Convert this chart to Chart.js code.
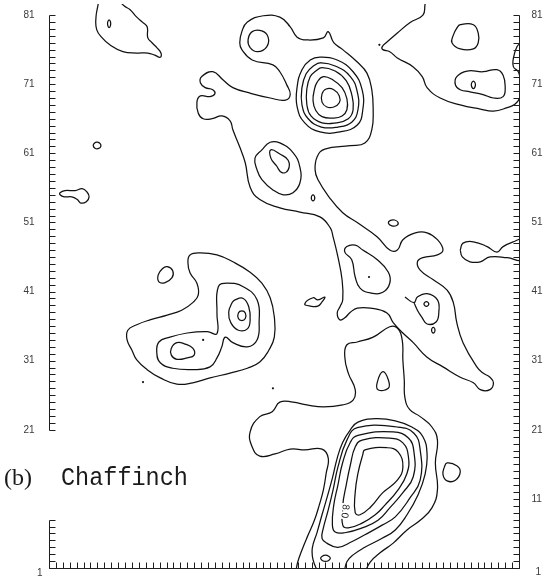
<!DOCTYPE html>
<html>
<head>
<meta charset="utf-8">
<script src="https://cdn.jsdelivr.net/npm/chart.js@4/dist/chart.umd.min.js"></script>
<style>
  html, body { margin: 0; padding: 0; background: #fff; }
  #wrap { width: 548px; height: 580px; }
</style>
</head>
<body>
<div id="wrap"><canvas id="map" width="548" height="580"></canvas></div>
<script>
// Grid extent (survey squares) and axis tick labelling
const xRange = [1, 69];
const yRange = [1, 82.6];
const leftAxisSpans = [[21, 81], [1, 8]];
const leftTickLabels = [81, 71, 61, 51, 41, 31, 21, 1];
const rightTickLabels = [81, 71, 61, 51, 41, 31, 21, 11, 1];
const contourLabel = ['8.0', 43.8, 9.2];
const speckles = [[23.3, 34.0], [47.3, 43.1], [14.6, 27.9], [33.4, 27.0], [48.8, 76.7]];

// Contour paths in grid units [x, y]. Open paths run off the map edge.
const topLeftBlob = [[8.2,83.2],[8.1,82.5],[7.8,80.7],[7.9,78.9],[8.7,77.7],[9.8,76.7],[11.7,75.7],[13.7,75.5],[15.3,75.5],[16.3,75.2],[17.1,74.9],[17.2,75.5],[16.6,76.3],[15.9,77.0],[15.3,77.7],[15.2,79.3],[14.6,79.9],[13.7,80.7],[12.7,81.8],[11.9,82.3],[11.2,83.0]];
const northEastLine = [[55.5,83.2],[55.4,82.5],[55.1,81.0],[53.2,79.9],[51.4,78.4],[49.9,77.1],[49.2,76.4],[49.3,76.0],[50.3,75.7],[51.4,74.8],[53.7,73.5],[55.0,72.1],[55.7,70.5],[57.6,69.0],[60.5,68.0],[63.4,67.4],[65.3,67.1],[67.3,67.6],[68.4,68.1],[69.1,69.0],[69.3,70.5],[69.2,71.5],[68.9,72.8],[68.2,73.5],[68.2,74.8],[68.7,76.4],[69.3,77.1],[69.8,78.0]];
const lowerOuter = [[36.7,0.4],[37.0,1.9],[37.6,3.6],[38.5,5.8],[39.4,7.9],[40.1,10.1],[40.7,12.3],[41.1,14.7],[41.4,16.9],[40.5,18.2],[38.0,18.1],[35.9,18.2],[33.7,17.5],[31.5,17.2],[30.4,18.5],[30.1,20.7],[31.5,22.9],[33.3,23.6],[34.4,25.0],[36.3,25.0],[38.3,24.6],[40.7,24.3],[43.5,24.6],[45.0,25.3],[45.3,26.8],[44.3,29.2],[43.8,31.5],[44.1,33.3],[45.6,33.7],[47.9,34.4],[50.3,35.9],[51.4,35.7],[52.1,34.0],[52.2,31.1],[52.4,28.2],[52.5,25.6],[53.2,23.9],[54.7,22.9],[56.4,21.4],[57.2,19.5],[56.9,16.2],[57.2,12.3],[56.4,9.7],[54.7,7.9],[52.8,6.5],[50.8,4.6],[48.9,3.2],[47.5,1.9],[46.7,0.4]];
const lowerLevel2 = [[39.9,0.4],[39.2,2.2],[39.1,3.9],[39.8,6.2],[40.5,8.7],[41.2,11.1],[42.0,14.0],[42.7,16.9],[43.5,19.2],[44.6,21.0],[45.7,22.1],[48.2,22.6],[51.1,22.3],[53.5,21.4],[55.1,20.0],[55.7,17.4],[55.4,14.5],[54.4,11.6],[52.8,8.7],[51.1,6.5],[49.2,5.3],[46.7,4.0],[45.0,2.9],[44.1,1.9],[43.7,0.4]];
const eastLoop = [[52.5,40.2],[53.8,39.4],[54.3,40.2],[55.7,40.7],[57.2,39.8],[57.4,38.0],[57.0,36.6],[55.7,36.3],[55.0,37.2],[54.3,38.3],[53.8,39.4]];
const eastRidge = [[60.5,47.0],[60.9,48.0],[62.4,48.2],[64.4,47.5],[65.8,46.7],[66.7,47.5],[68.2,48.2],[69.5,48.5],[69.5,45.6],[67.3,45.9],[64.8,46.0],[63.4,45.3],[61.9,45.3],[60.8,46.0],[60.5,47.0]];

// Closed contours
const topLeftSpeck = [[9.7,80.3],[9.9,80.0],[9.9,79.5],[9.7,79.2],[9.5,79.5],[9.5,80.0]];
const westRing = [[7.4,62.1],[7.6,62.5],[8.0,62.6],[8.4,62.4],[8.5,62.0],[8.2,61.7],[7.7,61.7]];
const edgeBlob = [[2.6,55.3],[3.3,55.6],[4.8,55.6],[5.8,55.9],[6.5,55.4],[6.8,54.7],[6.4,54.0],[5.6,53.8],[5.1,54.3],[4.3,54.7],[3.2,54.7],[2.6,55.0]];
const westOval = [[18.1,44.6],[18.9,44.0],[18.8,43.0],[17.8,42.3],[16.9,42.4],[16.8,43.4],[17.4,44.3]];
const westOuter = [[21.4,46.3],[22.9,46.6],[25.3,46.3],[27.6,45.3],[30.1,43.8],[31.8,42.2],[33.0,40.1],[33.6,37.3],[33.6,34.4],[32.8,32.5],[31.5,30.8],[29.7,29.9],[27.2,29.2],[24.3,28.5],[21.8,27.8],[19.5,27.6],[17.1,28.5],[15.2,29.7],[13.7,31.1],[13.0,32.5],[12.3,34.0],[12.4,35.4],[13.7,36.2],[15.6,36.9],[18.1,37.6],[20.2,38.3],[21.8,39.4],[22.6,40.5],[22.4,42.2],[21.4,43.7],[21.1,45.2]];
const westLevel2 = [[25.5,41.7],[26.8,42.2],[29.1,41.7],[31.1,39.8],[31.4,36.5],[31.1,34.0],[29.7,33.0],[27.6,33.6],[26.5,34.4],[26.0,33.0],[25.3,31.4],[24.3,30.1],[21.8,29.7],[18.9,29.9],[17.1,30.7],[16.6,32.1],[16.9,33.7],[18.5,34.4],[21.0,35.0],[23.9,35.2],[25.3,34.9],[25.3,37.9]];
const westLevel3a = [[27.9,39.8],[29.1,40.0],[29.9,38.8],[30.1,36.9],[29.7,35.6],[28.4,35.4],[27.3,36.5],[27.0,38.0],[27.5,39.4]];
const westLevel4 = [[28.9,38.2],[29.4,37.9],[29.4,37.1],[28.9,36.8],[28.4,37.1],[28.4,37.9]];
const westLevel3b = [[19.5,33.6],[20.7,33.4],[21.8,32.8],[22.0,31.8],[21.0,31.4],[19.5,31.2],[18.7,31.8],[18.7,32.8]];
const centralOuter = [[28.9,78.6],[29.7,80.0],[32.0,80.9],[34.4,80.7],[35.9,79.3],[36.9,77.8],[38.3,77.4],[40.7,77.7],[41.4,78.6],[42.2,77.0],[43.5,76.0],[45.6,74.2],[47.0,72.6],[47.7,70.2],[47.9,67.3],[47.7,64.4],[46.7,62.5],[44.6,62.1],[40.9,61.6],[39.8,60.5],[39.5,58.6],[39.9,57.2],[41.5,54.7],[43.5,52.4],[45.7,50.9],[48.5,48.9],[50.3,47.0],[51.4,47.0],[52.2,48.5],[54.0,49.5],[55.7,49.5],[57.2,48.5],[58.0,47.0],[57.2,46.3],[55.1,45.9],[54.3,45.3],[54.7,44.1],[56.6,42.7],[58.6,41.2],[59.5,39.4],[60.0,36.5],[60.9,33.6],[62.9,30.1],[63.8,29.2],[64.8,28.6],[65.3,27.8],[64.8,26.8],[63.4,26.8],[62.4,27.8],[60.5,28.6],[58.0,30.1],[55.7,31.5],[53.7,33.6],[52.2,35.0],[50.8,36.5],[49.9,37.9],[47.5,38.6],[45.6,38.6],[44.6,38.0],[43.8,37.2],[43.1,36.9],[42.7,37.9],[43.1,38.8],[43.5,39.8],[43.4,42.7],[42.8,46.0],[42.1,48.9],[41.7,50.2],[40.2,51.8],[37.3,52.5],[34.4,53.1],[31.5,54.3],[30.1,56.1],[29.4,59.6],[28.6,61.9],[27.6,64.4],[27.2,65.7],[26.0,66.4],[24.6,66.0],[23.3,66.0],[22.6,66.8],[22.4,68.4],[22.9,69.3],[24.3,69.2],[25.0,69.6],[24.7,70.2],[23.6,70.5],[22.9,71.2],[23.1,72.1],[24.7,72.8],[26.2,71.6],[27.6,70.5],[30.1,69.7],[33.0,69.0],[35.2,68.7],[35.9,69.5],[35.4,70.9],[34.4,72.8],[33.4,73.8],[30.4,74.5],[28.9,76.0],[28.6,77.0]];
const northRing = [[30.4,78.6],[31.8,78.7],[32.7,77.8],[32.5,76.4],[31.2,75.7],[30.1,76.3],[29.8,77.4]];
const peakLevel2 = [[40.2,74.9],[42.7,74.5],[45.0,72.8],[46.3,70.2],[46.4,67.3],[45.6,65.1],[43.1,64.1],[40.2,64.1],[38.0,65.4],[36.9,67.7],[36.9,70.6],[37.6,73.1],[38.8,74.5]];
const peakLevel3 = [[40.4,74.1],[42.5,73.6],[44.6,72.1],[45.6,69.9],[45.7,67.3],[44.8,65.5],[42.8,64.8],[40.4,64.8],[38.5,66.0],[37.6,68.0],[37.6,70.5],[38.2,72.5],[39.2,73.6]];
const peakLevel4 = [[40.5,73.4],[42.4,72.9],[44.0,71.5],[44.8,69.5],[45.0,67.3],[44.3,66.0],[42.5,65.4],[40.5,65.4],[38.9,66.4],[38.3,68.1],[38.3,70.3],[38.8,72.1],[39.6,72.9]];
const peakLevel5 = [[40.7,72.1],[42.1,71.6],[43.4,70.5],[44.1,68.9],[44.1,67.3],[43.4,66.4],[42.1,66.1],[40.5,66.3],[39.6,67.2],[39.2,68.6],[39.4,70.2],[39.8,71.3]];
const peakLevel6 = [[41.1,70.3],[42.2,70.2],[43.0,69.3],[43.0,68.3],[42.2,67.7],[41.2,67.7],[40.5,68.4],[40.5,69.6]];
const midLevel2 = [[31.8,61.5],[33.0,62.6],[34.4,62.5],[36.3,61.1],[37.3,59.0],[37.3,56.7],[36.3,55.3],[34.9,55.0],[33.4,55.7],[31.8,57.2],[31.1,58.6],[30.8,60.3]];
const midLevel3 = [[33.1,61.5],[34.4,60.9],[35.6,60.0],[35.6,58.6],[34.7,58.2],[33.9,59.2],[33.1,60.3]];
const speckA = [[39.2,55.0],[39.45,54.55],[39.2,54.1],[38.95,54.55]];
const speckB = [[50.1,50.9],[50.4,51.3],[51.0,51.35],[51.5,51.0],[51.3,50.55],[50.6,50.5]];
const centralLobe = [[44.1,47.5],[45.3,47.7],[46.4,47.0],[48.5,45.6],[50.1,43.8],[50.3,42.2],[49.3,40.9],[47.5,40.8],[46.0,41.5],[45.3,43.1],[44.8,45.6],[43.8,46.7]];
const eastSpeck = [[55.25,39.2],[55.6,39.55],[55.95,39.2],[55.6,38.85]];
const eastDrop = [[56.35,35.4],[56.6,35.8],[56.85,35.4],[56.6,35.0]];
const wedge = [[38.0,39.2],[39.2,40.1],[39.9,39.8],[40.9,40.2],[40.5,39.5],[39.9,38.9],[38.8,38.9]];
const northEastBlob = [[60.5,79.6],[62.4,79.6],[63.1,78.4],[63.1,77.0],[62.4,76.1],[60.5,76.1],[59.3,77.0],[59.5,78.1],[60.0,79.1]];
const eastBlob = [[60.0,72.1],[61.5,72.9],[63.8,72.8],[65.8,73.1],[66.7,72.3],[67.0,70.6],[66.7,69.2],[65.3,69.0],[63.8,69.5],[61.9,69.9],[60.5,70.2],[59.8,70.9]];
const eastBlobHole = [[62.4,71.45],[62.7,70.9],[62.4,70.35],[62.1,70.9]];
const gullyLoop = [[49.3,29.4],[50.1,28.2],[50.1,27.0],[48.6,26.8],[48.5,27.9]];
const southRing = [[58.6,16.2],[60.0,15.8],[60.5,14.9],[59.8,13.7],[58.6,13.6],[58.0,14.5],[58.2,15.6]];
const southHole = [[40.3,2.4],[41.0,2.85],[41.7,2.4],[41.0,1.95]];
const lowerLevel3 = [[45.6,21.3],[51.4,21.4],[53.8,20.5],[54.7,18.1],[54.7,13.7],[53.2,11.1],[51.1,8.4],[49.2,7.2],[46.7,5.8],[44.8,4.8],[42.8,4.0],[41.2,4.6],[40.5,5.3],[40.7,6.8],[41.4,9.4],[42.1,12.3],[42.8,15.6],[44.1,19.5]];
const lowerLevel4 = [[45.7,20.2],[50.8,20.7],[53.0,19.8],[53.8,17.8],[53.7,14.2],[52.2,11.9],[50.3,9.7],[48.6,7.9],[46.3,6.8],[43.8,6.1],[42.4,6.2],[42.0,7.2],[42.2,10.1],[42.8,13.0],[43.5,16.3],[44.6,19.2]];
const lowerLevel5 = [[46.3,19.5],[50.3,19.8],[52.2,19.1],[53.0,17.1],[52.8,14.7],[51.5,12.3],[49.6,10.1],[48.2,8.7],[46.3,7.5],[44.3,6.8],[43.5,7.2],[43.5,10.1],[44.0,13.0],[44.6,15.9],[45.3,18.5]];
const lowerLevel6 = [[46.7,18.1],[49.9,18.4],[51.5,17.8],[52.2,15.6],[51.4,13.7],[49.3,11.9],[47.5,9.8],[46.0,8.7],[45.3,9.0],[45.3,11.9],[45.7,14.7],[46.4,17.4]];

const openPaths = [topLeftBlob, northEastLine, lowerOuter, lowerLevel2, eastLoop, eastRidge];
const closedPaths = [topLeftSpeck, westRing, edgeBlob, westOval, westOuter, westLevel2, westLevel3a, westLevel4, westLevel3b,
  centralOuter, northRing, peakLevel2, peakLevel3, peakLevel4, peakLevel5, peakLevel6, midLevel2, midLevel3, speckA, speckB,
  centralLobe, eastSpeck, eastDrop, wedge, northEastBlob, eastBlob, eastBlobHole, gullyLoop, southRing, southHole,
  lowerLevel3, lowerLevel4, lowerLevel5, lowerLevel6];

const INK = '#111';
const LINE_W = 1.25;
const asPoints = list => list.map(([x, y]) => ({ x, y }));

function pathSet(list) {
  return { data: asPoints(list), showLine: true, tension: 0.45, borderColor: INK, borderWidth: LINE_W, pointRadius: 0 };
}
// Closed contour: wrap one point on each side so the spline is smooth at the seam,
// and hide the two wrap segments.
function loopSet(list) {
  const n = list.length;
  const pts = [list[n - 1], ...list, list[0], list[1]];
  const last = pts.length - 1;
  return {
    data: asPoints(pts), showLine: true, tension: 0.45, borderColor: INK, borderWidth: LINE_W, pointRadius: 0,
    segment: { borderColor: c => (c.p0DataIndex === 0 || c.p1DataIndex === last) ? 'rgba(0,0,0,0)' : INK }
  };
}

const datasets = [
  ...openPaths.map(pathSet),
  ...closedPaths.map(loopSet),
  { data: asPoints(speckles), showLine: false, pointRadius: 1.1, pointBorderWidth: 0, pointBackgroundColor: INK }
];

const framePlugin = {
  id: 'frame',
  afterDatasetsDraw(chart) {
    const { ctx, scales: { x, y } } = chart;
    const px = v => Math.round(x.getPixelForValue(v)) + 0.5;
    const py = v => Math.round(y.getPixelForValue(v)) + 0.5;
    const L = px(xRange[0]), R = px(xRange[1]), B = py(1);
    const tick = 6;
    ctx.save();

    // contour level label, set into a break in its line
    const [txt, lx, ly] = contourLabel;
    ctx.save();
    ctx.translate(x.getPixelForValue(lx), y.getPixelForValue(ly));
    ctx.rotate(Math.PI / 2 + 0.12);
    ctx.font = '10px "Liberation Sans", Arial, sans-serif';
    const w = ctx.measureText(txt).width;
    ctx.fillStyle = '#fff';
    ctx.fillRect(-w / 2 - 1, -5, w + 2, 10);
    ctx.fillStyle = INK;
    ctx.textAlign = 'center';
    ctx.textBaseline = 'middle';
    ctx.fillText(txt, 0, 0);
    ctx.restore();

    // axes with a tick at every grid square, pointing inward
    ctx.strokeStyle = '#1e1e1e';
    ctx.lineWidth = 1;
    ctx.beginPath();
    for (const [a, b] of leftAxisSpans) {
      ctx.moveTo(L, py(a)); ctx.lineTo(L, py(b));
      for (let v = a; v <= b; v++) { ctx.moveTo(L, py(v)); ctx.lineTo(L + tick, py(v)); }
    }
    ctx.moveTo(R, py(1)); ctx.lineTo(R, py(81));
    for (let v = 1; v <= 81; v++) { ctx.moveTo(R, py(v)); ctx.lineTo(R - tick, py(v)); }
    ctx.moveTo(L, B); ctx.lineTo(R, B);
    for (let v = xRange[0]; v <= xRange[1]; v++) { ctx.moveTo(px(v), B); ctx.lineTo(px(v), B - tick); }
    ctx.stroke();

    // tick labels (the corner "1" sits a little lower and further in)
    ctx.fillStyle = '#3a3a3a';
    ctx.font = '10px "Liberation Sans", Arial, sans-serif';
    ctx.textBaseline = 'middle';
    ctx.textAlign = 'right';
    for (const v of leftTickLabels) {
      const corner = v === 1;
      ctx.fillText(String(v), L - (corner ? 7 : 15), y.getPixelForValue(v) + (corner ? 5 : 0));
    }
    ctx.textAlign = 'left';
    for (const v of rightTickLabels) {
      const corner = v === 1;
      ctx.fillText(String(v), R + (corner ? 16 : 12), y.getPixelForValue(v) + (corner ? 4 : 0));
    }

    // panel caption
    ctx.fillStyle = '#1a1a1a';
    ctx.textBaseline = 'alphabetic';
    ctx.font = '24px "Liberation Serif", "DejaVu Serif", serif';
    ctx.fillText('(b)', 4, 485);
    ctx.save();
    ctx.translate(61, 485);
    ctx.scale(1, 1.12);
    ctx.font = '23.5px "Liberation Mono", "DejaVu Sans Mono", monospace';
    ctx.fillText('Chaffinch', 0, 0);
    ctx.restore();
    ctx.restore();
  }
};

new Chart(document.getElementById('map'), {
  type: 'scatter',
  data: { datasets },
  options: {
    responsive: false,
    animation: false,
    devicePixelRatio: 1,
    events: [],
    layout: { padding: { left: 49, right: 29, top: 4, bottom: 12 } },
    scales: {
      x: { type: 'linear', min: xRange[0], max: xRange[1], display: false },
      y: { type: 'linear', min: yRange[0], max: yRange[1], display: false }
    },
    plugins: { legend: { display: false }, tooltip: { enabled: false } }
  },
  plugins: [framePlugin]
});
</script>
</body>
</html>
